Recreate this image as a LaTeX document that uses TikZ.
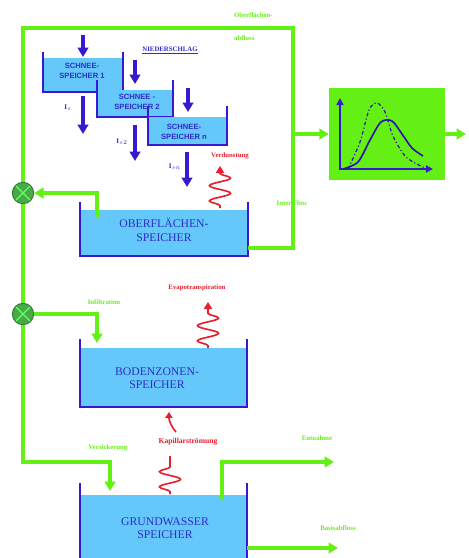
\documentclass[tikz,border=0pt]{standalone}
\usepackage{fontspec}
\setmainfont{Liberation Serif}
\setsansfont{Liberation Sans}
\usepackage{tikz}
\usetikzlibrary{arrows.meta,positioning,calc,decorations.pathmorphing}
\definecolor{flowgreen}{RGB}{100,240,20}
\definecolor{waterblue}{RGB}{100,200,250}
\definecolor{wallblue}{RGB}{55,25,210}
\definecolor{textblue}{RGB}{45,45,200}
\definecolor{heatred}{RGB}{230,30,45}
\definecolor{sumgreen}{RGB}{70,170,70}

\begin{document}
\begin{tikzpicture}[x=0.03cm,y=-0.03cm,>=Latex,
  flow/.style={line width=2.7pt,flowgreen},
  flowarr/.style={flow,-{Triangle[length=8pt,width=9pt]}},
  wall/.style={line width=2.4pt,wallblue},
  water/.style={fill=waterblue},
  snowarr/.style={line width=2.6pt,wallblue,-{Triangle[length=8pt,width=9pt]}},
  tanktxt/.style={font=\fontsize{10}{11.5}\selectfont,text=textblue,align=center},
  snowtxt/.style={font=\fontsize{6.5}{8}\selectfont\sffamily\bfseries,text=textblue,align=center},
  lab/.style={font=\fontsize{5.8}{6}\selectfont\bfseries,text=flowgreen},
  redlab/.style={font=\fontsize{5.8}{6}\selectfont\bfseries,text=heatred},
  bluelab/.style={font=\fontsize{6}{7}\selectfont\bfseries,text=textblue},
  heat/.style={line width=1.4pt,heatred,decorate,
    decoration={snake,amplitude=9pt,segment length=13pt,pre length=2pt,post length=6pt}},
  sumnd/.style={circle,draw=sumgreen!70!black,fill=sumgreen,minimum size=0.64cm,inner sep=0pt,line width=0.8pt,
    path picture={\draw[line width=1pt,green!60!white]
      (path picture bounding box.north west)--(path picture bounding box.south east)
      (path picture bounding box.north east)--(path picture bounding box.south west);}}]
\useasboundingbox (0,0) rectangle (468,558);

% storages
\fill[water] (80,210) rectangle (248,256);
\draw[wall] (80,202) -- (80,256) -- (248,256) -- (248,202);
\node[tanktxt] (ofs) at (164,230) {OBERFLÄCHEN-\\SPEICHER};
\fill[water] (80,348) rectangle (247,407);
\draw[wall] (80,339) -- (80,407) -- (247,407) -- (247,339);
\node[tanktxt] (bzs) at (157,378) {BODENZONEN-\\SPEICHER};
\fill[water] (80,495) rectangle (247,558);
\draw[wall] (80,483) -- (80,558) (247,558) -- (247,483);
\node[tanktxt] (gws) at (165,528) {GRUNDWASSER\\SPEICHER};

% snow storages
\foreach \xa/\xb/\yt/\yw/\yb in {43/123/52/58/92, 97/173/80/90/117, 148/227/106/117/145}
 {\fill[water] (\xa,\yw) rectangle (\xb,\yb);
  \draw[wall] (\xa,\yt) -- (\xa,\yb) -- (\xb,\yb) -- (\xb,\yt);}
\node[snowtxt] (sp1) at (82,71) {SCHNEE-\\SPEICHER 1};
\node[snowtxt] (sp2) at (137,102) {SCHNEE -\\SPEICHER 2};
\node[snowtxt] (sp3) at (184,132) {SCHNEE-\\SPEICHER n};
\node[font=\fontsize{5.8}{6}\selectfont\bfseries,text=textblue] (nds) at (170,50) {\underline{NIEDERSCHLAG}};
\foreach \x/\ya/\yb in {83/35/57, 135/60/84, 188/88/112} \draw[snowarr] (\x,\ya) -- (\x,\yb);
\foreach \x/\ya/\yb in {83/96/134, 135/125/161, 187/152/187} \draw[snowarr] (\x,\ya) -- (\x,\yb);
\node[bluelab] (i1) at (68,108) {I$_s$};
\node[bluelab] (i2) at (122,142) {I$_{s2}$};
\node[bluelab] (i3) at (175,167) {I$_{sn}$};

% junctions
\node[sumnd] (j1) at (23,193) {};
\node[sumnd] (j2) at (23,314) {};

% hydrograph
\node[fill=flowgreen,minimum width=3.48cm,minimum height=2.76cm,inner sep=0pt] (hyd) at (387,134) {};
\draw[line width=1.3pt,wallblue,{Triangle[length=6pt,width=6pt]}-{Triangle[length=6pt,width=6pt]}] (340,98) -- (340,169) -- (433,169);
\draw[line width=1.4pt,wallblue!80!black] plot[smooth] coordinates
 {(343,169) (358,162) (370,140) (381,122) (392,121) (402,134) (412,148) (423,156)};
\draw[line width=1pt,wallblue!80!black,dash dot] plot[smooth] coordinates
 {(348,169) (360,142) (369,110) (377,103) (385,112) (393,136) (406,157) (425,168)};

% green flows
\coordinate (oro) at (248,248);
\coordinate (hyb) at (293,134);
\draw[flow] (oro) -- (293,248) -- (hyb) -- (293,28) -- (23,28) -- (j1) -- (j2) -- (23,462) -- (110,462);
\draw[flowarr] (110,460) -- (110,491);
\draw[flowarr] (hyb) -- (hyd.west);
\draw[flowarr] (hyd.east) -- (466,134);
\draw[flowarr] (97,217) -- (97,193) -- (j1.east);
\draw[flowarr] (j2.east) -- (97,314) -- (97,343);
\draw[flowarr] (222,500) -- (222,462) -- (334,462);
\draw[flowarr] (247,548) -- (338,548);

% labels
\node[lab,anchor=west] (oab1) at (230,15) {Oberflächen-};
\node[lab,anchor=west] (oab2) at (230,38) {abfluss};
\node[lab] (ifl) at (292,203) {Inter Flow};
\node[lab] (inf) at (104,302) {Infiltration};
\node[lab] (vsk) at (108,448) {Versickerung};
\node[lab] (ent) at (317,438) {Entnahme};
\node[lab] (bas) at (338,528) {Basisabfluss};
\node[redlab] (vdu) at (230,156) {Verdunstung};
\node[redlab] (eva) at (197,288) {Evapotranspiration};
\node[redlab,font=\fontsize{6.5}{7}\selectfont\bfseries] (kap) at (188,442) {Kapillarströmung};

% red squiggles
\draw[heat,-{Triangle[length=6pt,width=7pt]}] (220,208) -- (220,166);
\draw[heat,-{Triangle[length=6pt,width=7pt]}] (208,348) -- (208,302);
\draw[heat] (170,494) -- (170,456);
\draw[line width=1.4pt,heatred,-{Triangle[length=5pt,width=6pt]}] (176,432) to[bend left=20] (169,412);
\end{tikzpicture}
\end{document}
